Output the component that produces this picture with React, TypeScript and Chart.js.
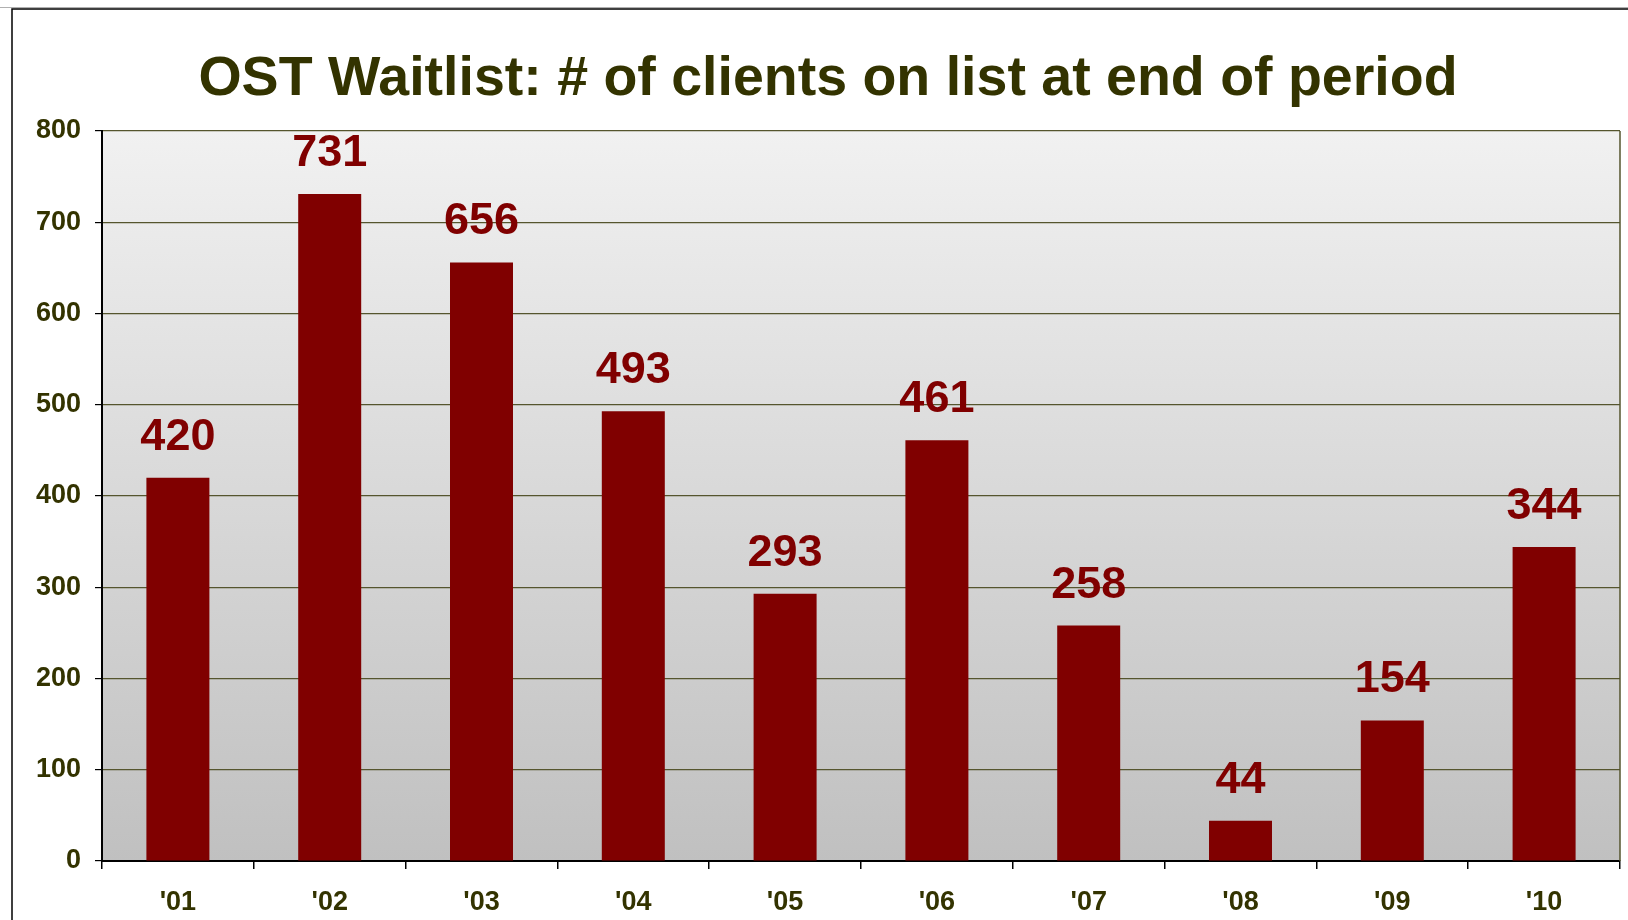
import React, { useEffect, useRef } from "react";
import { Chart, registerables } from "chart.js";

Chart.register(...registerables);

const categories = ["'01", "'02", "'03", "'04", "'05", "'06", "'07", "'08", "'09", "'10"];
const waitlistValues = [420, 731, 656, 493, 293, 461, 258, 44, 154, 344];
const yTickMin = 0;
const yTickMax = 800;
const yTickStep = 100;
const titleText = "OST Waitlist: # of clients on list at end of period";

const FONT = "'Liberation Sans', Arial, Helvetica, sans-serif";
const OLIVE = "#333300";
const BAR = "#800000";
const GRID = "#55552e";

const decorPlugin = {
  id: "decor",
  beforeDraw(chart: any) {
    const { ctx, chartArea } = chart;
    const { left, top, right, bottom } = chartArea;
    ctx.save();
    ctx.fillStyle = "#ffffff";
    ctx.fillRect(0, 0, chart.width, chart.height);
    ctx.strokeStyle = "#b0b0b0";
    ctx.lineWidth = 1;
    ctx.beginPath();
    ctx.moveTo(0, 7.5);
    ctx.lineTo(chart.width, 7.5);
    ctx.stroke();
    ctx.strokeStyle = "#000000";
    ctx.lineWidth = 1.5;
    ctx.beginPath();
    ctx.moveTo(12, chart.height);
    ctx.lineTo(12, 9);
    ctx.lineTo(chart.width, 9);
    ctx.stroke();
    const g = ctx.createLinearGradient(0, top, 0, bottom);
    g.addColorStop(0, "#f1f1f1");
    g.addColorStop(1, "#c0c0c0");
    ctx.fillStyle = g;
    ctx.fillRect(left, top, right - left, bottom - top);
    ctx.fillStyle = OLIVE;
    ctx.font = `bold 55.5px ${FONT}`;
    ctx.textAlign = "center";
    ctx.textBaseline = "alphabetic";
    ctx.fillText(titleText, 828, 95);
    ctx.restore();
  },
  afterDraw(chart: any) {
    const { ctx, chartArea } = chart;
    const { top, right, bottom } = chartArea;
    ctx.save();
    ctx.strokeStyle = GRID;
    ctx.lineWidth = 1.5;
    ctx.beginPath();
    ctx.moveTo(right, top);
    ctx.lineTo(right, bottom);
    ctx.stroke();
    ctx.restore();
  },
  afterDatasetsDraw(chart: any) {
    const { ctx } = chart;
    const meta = chart.getDatasetMeta(0);
    const data = chart.data.datasets[0].data as number[];
    ctx.save();
    ctx.fillStyle = BAR;
    ctx.font = `bold 45px ${FONT}`;
    ctx.textAlign = "center";
    ctx.textBaseline = "alphabetic";
    meta.data.forEach((bar: any, i: number) => {
      ctx.fillText(String(data[i]), bar.x, bar.y - 28);
    });
    ctx.restore();
  },
};

export default function App() {
  const ref = useRef<HTMLCanvasElement | null>(null);

  useEffect(() => {
    if (!ref.current) return;
    const chart = new Chart(ref.current, {
      type: "bar",
      data: {
        labels: categories,
        datasets: [
          {
            data: waitlistValues,
            backgroundColor: BAR,
            borderWidth: 0,
            categoryPercentage: 1,
            barPercentage: 0.415,
          },
        ],
      },
      options: {
        responsive: false,
        animation: false,
        devicePixelRatio: 1,
        layout: { padding: { top: 131, right: 8, left: 0, bottom: 0 } },
        plugins: {
          legend: { display: false },
          title: { display: false },
          tooltip: { enabled: false },
        },
        scales: {
          x: {
            offset: true,
            grid: {
              offset: true,
              drawOnChartArea: false,
              drawTicks: true,
              tickLength: 8,
              tickColor: "#000000",
              lineWidth: 1.5,
            },
            border: { color: "#000000", width: 2 },
            ticks: {
              color: OLIVE,
              font: { family: FONT, size: 27, weight: "bold" },
              padding: 17,
              maxRotation: 0,
            },
            afterFit(scale: any) {
              scale.height = 59;
            },
          },
          y: {
            min: yTickMin,
            max: yTickMax,
            ticks: {
              stepSize: yTickStep,
              color: OLIVE,
              font: { family: FONT, size: 27, weight: "bold" },
              padding: 14,
            },
            grid: {
              color: GRID,
              lineWidth: 1.2,
              tickLength: 7,
              tickColor: "#000000",
            },
            border: { color: "#000000", width: 2 },
            afterFit(scale: any) {
              scale.width = 102;
            },
          },
        },
      },
      plugins: [decorPlugin],
    });
    return () => chart.destroy();
  }, []);

  return (
    <div style={{ position: "fixed", left: 0, top: 0, width: 1628, height: 920, background: "#fff" }}>
      <canvas ref={ref} width={1628} height={920} style={{ display: "block" }} />
    </div>
  );
}
